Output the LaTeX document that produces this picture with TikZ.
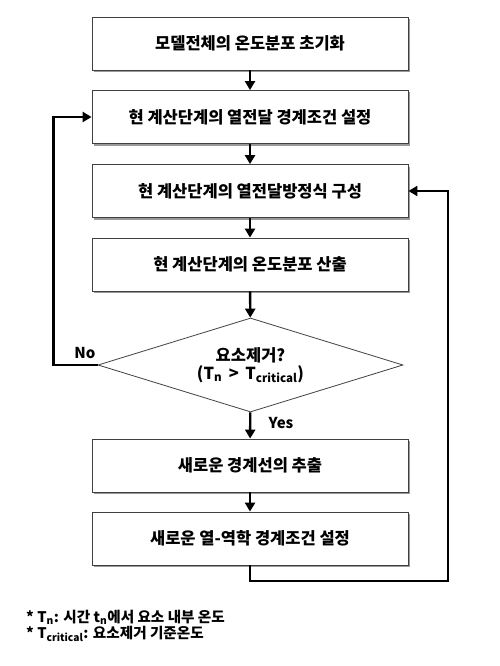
\documentclass[tikz,border=0pt]{standalone}
\usepackage{fontspec}
\setmainfont{Noto Sans CJK KR}
\usetikzlibrary{shapes.geometric,arrows.meta,shadows}
\begin{document}
\begin{tikzpicture}[x=1pt,y=-1pt,
  mainf/.style={font=\fontsize{16.5pt}{20pt}\selectfont\bfseries},
  box/.style={draw=black!75, line width=0.8pt, fill=white, minimum width=316pt, minimum height=53pt, inner sep=0pt, mainf,
    drop shadow={shadow xshift=2pt, shadow yshift=-2pt, fill=black!40, opacity=1}},
  dia/.style={diamond, draw=black!75, line width=0.8pt, fill=white, minimum width=305pt, minimum height=94pt, inner sep=0pt, aspect=3.2, align=center, mainf},
  arr/.style={line width=2.4pt, -{Triangle[length=9pt,width=10pt]}},
  lab/.style={font=\fontsize{15pt}{18pt}\selectfont\bfseries},
  note/.style={anchor=west, inner sep=0pt, font=\fontsize{14.6pt}{16pt}\selectfont\bfseries}]
\useasboundingbox (0,0) rectangle (500,666);
\node[box] (b1) at (250,43.5) {모델전체의 온도분포 초기화};
\node[box] (b2) at (250,117) {현 계산단계의 열전달 경계조건 설정};
\node[box] (b3) at (250,191) {현 계산단계의 열전달방정식 구성};
\node[box] (b4) at (250,264.5) {현 계산단계의 온도분포 산출};
\node[dia] (d) at (250.5,365) {요소제거?\\[-2pt](T\textsubscript{n} \,>\, T\textsubscript{critical})};
\node[box] (b5) at (250,465.5) {새로운 경계선의 추출};
\node[box] (b6) at (250,538.5) {새로운 열-역학 경계조건 설정};
\coordinate (r) at (448,581);
\draw[arr] (b1) -- (b2);
\draw[arr] (b2) -- (b3);
\draw[arr] (b3) -- (b4);
\draw[arr] (b4) -- (d);
\draw[arr] (d) -- (b5);
\draw[arr] (b5) -- (b6);
\draw[arr] (d.west) -- ++(-44,0) |- (b2.west);
\draw[arr] (b6.south) |- (r) |- (b3.east);
\node[lab] (no) at (85,353) {No};
\node[lab] (yes) at (281,423) {Yes};
\node[note] (f1) at (26,617) {* T\textsubscript{n}: 시간 t\textsubscript{n}에서 요소 내부 온도};
\node[note] (f2) at (26,634) {* T\textsubscript{critical}: 요소제거 기준온도};
\end{tikzpicture}
\end{document}
